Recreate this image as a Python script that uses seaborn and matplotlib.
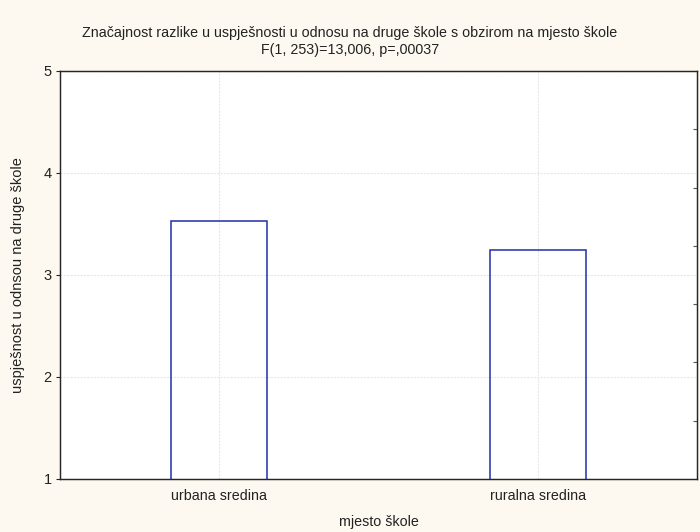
import pandas as pd
import matplotlib.pyplot as plt
import seaborn as sns

# group means
categories = ["urbana sredina", "ruralna sredina"]
means = [3.53, 3.245]
y_ticks = [1, 2, 3, 4, 5]

df = pd.DataFrame({"mjesto": categories, "uspjeh": means})

sns.set_style("white")
plt.rcParams["font.family"] = ["Liberation Sans", "DejaVu Sans"]

fig = plt.figure(figsize=(7, 5.32), dpi=100, facecolor="#fdf9f0")
ax = fig.add_axes([60 / 700, 1 - 479 / 532, 637 / 700, 408 / 532])
ax.set_facecolor("white")

sns.barplot(data=df, x="mjesto", y="uspjeh", ax=ax, width=0.3,
            fill=False, edgecolor="#1f2fa5", linewidth=1.1, errorbar=None)

ax.set_xlim(-0.5, 1.5)
ax.set_ylim(1, 5)
ax.set_yticks(y_ticks)
ax.grid(True, color="#e8e8e8", linestyle=(0, (2, 1)), linewidth=0.8)
ax.set_axisbelow(True)

for s in ax.spines.values():
    s.set_color("#333333")
    s.set_linewidth(1.0)

ax.tick_params(axis="y", direction="out", length=3, labelsize=10.5, colors="#222222", pad=3)
ax.tick_params(axis="x", direction="in", length=2, labelsize=10.3, colors="#222222", pad=7)

# right side minor scale marks
ax2 = ax.twinx()
ax2.set_ylim(0, 7)
ax2.set_yticks(range(1, 7))
ax2.tick_params(axis="y", direction="in", length=3, labelright=False, colors="#555555")
ax2.grid(False)

ax.set_xlabel("mjesto škole", fontsize=10.3, labelpad=9, color="#222222")
ax.set_ylabel("uspješnost u odnsou na druge škole", fontsize=10.5, labelpad=13, color="#222222")

fig.text(0.5, 1 - 33 / 532, "Značajnost razlike u uspješnosti u odnosu na druge škole s obzirom na mjesto škole",
         ha="center", va="center", fontsize=10.3, color="#222222")
fig.text(0.5, 1 - 50 / 532, "F(1, 253)=13,006, p=,00037",
         ha="center", va="center", fontsize=10.3, color="#222222")

plt.savefig("out.png", dpi=100, facecolor=fig.get_facecolor())
